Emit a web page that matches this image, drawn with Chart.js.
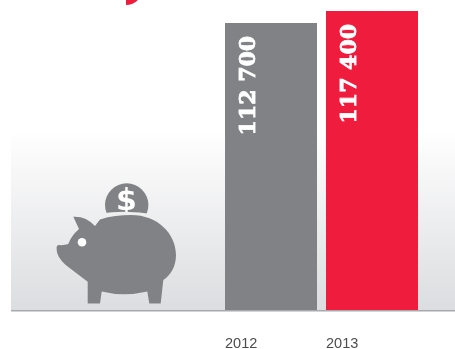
<!DOCTYPE html>
<html>
<head>
<meta charset="utf-8">
<style>
  html, body { margin: 0; padding: 0; background: #fff; }
  canvas { display: block; }
</style>
<script src="https://cdn.jsdelivr.net/npm/chart.js@4"></script>
</head>
<body>
<canvas id="savings_chart" width="455" height="349"></canvas>
<script>
const years = ["2012", "2013"];
const amounts = [112700, 117400];
const barColors = ["#808285", "#ef1c3d"];
const axisMax = 121700;

const formatAmount = (n) => String(n).replace(/\B(?=(\d{3})+$)/g, " ");

// Grey floor fade behind the bars, plus the baseline
const floorPlugin = {
    id: "floor",
    beforeDraw(chart) {
        const ctx = chart.ctx;
        const bottom = chart.chartArea.bottom;
        const fade = ctx.createLinearGradient(0, 130, 0, bottom);
        fade.addColorStop(0, "#ffffff");
        fade.addColorStop(1, "#dcdde0");
        ctx.save();
        ctx.fillStyle = fade;
        ctx.fillRect(11, 130, 444, bottom - 130);
        ctx.fillStyle = "#a7a9ac";
        ctx.fillRect(11, bottom, 444, 1.5);
        // tail end of the red swoosh cut off by the top edge
        ctx.fillStyle = "#ef1c3d";
        ctx.beginPath();
        ctx.moveTo(126, 0);
        ctx.lineTo(138, 0);
        ctx.quadraticCurveTo(133, 5, 126, 5);
        ctx.closePath();
        ctx.fill();
        ctx.restore();
    },
};

// Piggy bank with the coin going in
const piggyPlugin = {
    id: "piggy",
    afterDraw(chart) {
        const ctx = chart.ctx;
        ctx.save();
        ctx.fillStyle = "#808285";

        ctx.beginPath();
        ctx.arc(126.7, 205, 21.7, 0, Math.PI * 2);
        ctx.fill();

        ctx.fillStyle = "#ffffff";
        ctx.font = "bold 30px 'DejaVu Sans'";
        ctx.textAlign = "center";
        ctx.textBaseline = "middle";
        ctx.fillText("$", 126.5, 202);

        // pale slit between coin and back
        ctx.fillStyle = "#efeff0";
        ctx.beginPath();
        ctx.moveTo(100, 213.5);
        ctx.quadraticCurveTo(127, 209.5, 155, 214.5);
        ctx.lineTo(155, 232);
        ctx.lineTo(100, 232);
        ctx.closePath();
        ctx.fill();

        ctx.fillStyle = "#808285";
        ctx.beginPath();
        ctx.moveTo(73.3, 216.7);
        ctx.quadraticCurveTo(86, 216, 95, 226);
        ctx.lineTo(100, 219.5);
        ctx.bezierCurveTo(110, 216, 121, 215, 131, 215);
        ctx.bezierCurveTo(158, 215, 176, 234, 176, 255);
        ctx.bezierCurveTo(176, 266, 171, 275, 163.3, 280);
        ctx.lineTo(160.7, 303.5);
        ctx.lineTo(149.3, 303.5);
        ctx.lineTo(147.3, 291.5);
        ctx.quadraticCurveTo(124, 297, 101.7, 291.5);
        ctx.lineTo(100, 303.5);
        ctx.lineTo(87.7, 303.5);
        ctx.lineTo(87.7, 281.7);
        ctx.lineTo(68, 266.7);
        ctx.bezierCurveTo(62, 262, 57, 256, 56.7, 250);
        ctx.quadraticCurveTo(56, 245, 59, 245);
        ctx.quadraticCurveTo(64, 245.5, 68.3, 244);
        ctx.quadraticCurveTo(71, 236, 79, 229);
        ctx.closePath();
        ctx.fill();

        ctx.fillStyle = "#ffffff";
        ctx.beginPath();
        ctx.arc(82, 242.3, 4.3, 0, Math.PI * 2);
        ctx.fill();
        ctx.restore();
    },
};

// Amounts written upward inside each bar
const barTextPlugin = {
    id: "barText",
    afterDatasetsDraw(chart) {
        const ctx = chart.ctx;
        chart.getDatasetMeta(0).data.forEach((bar, i) => {
            const text = formatAmount(amounts[i]);
            ctx.save();
            ctx.translate(bar.x - 21.5, bar.y + 13);
            ctx.rotate(-Math.PI / 2);
            ctx.font = "bold 22px 'DejaVu Serif'";
            ctx.fillStyle = "#ffffff";
            ctx.strokeStyle = "#ffffff";
            ctx.lineWidth = 0.8;
            ctx.textAlign = "right";
            ctx.textBaseline = "middle";
            ctx.fillText(text, 0, 0);
            ctx.strokeText(text, 0, 0);
            ctx.restore();
        });
    },
};

new Chart(document.getElementById("savings_chart"), {
    type: "bar",
    data: {
        labels: years,
        datasets: [
            {
                data: amounts,
                backgroundColor: barColors,
                borderWidth: 0,
                categoryPercentage: 1,
                barPercentage: 92 / 101,
            },
        ],
    },
    options: {
        responsive: false,
        animation: false,
        layout: {
            padding: { left: 220.5, right: 32.5, top: 0, bottom: 0 },
        },
        plugins: {
            legend: { display: false },
            tooltip: { enabled: false },
        },
        scales: {
            x: {
                grid: { display: false },
                border: { display: false },
                afterFit: (scale) => {
                    scale.height = 39;
                },
                ticks: {
                    align: "start",
                    labelOffset: -46,
                    padding: 17,
                    maxRotation: 0,
                    color: "#4d4d4f",
                    font: { family: "'Liberation Sans'", size: 14.5 },
                },
            },
            y: {
                display: false,
                min: 0,
                max: axisMax,
            },
        },
    },
    plugins: [floorPlugin, barTextPlugin, piggyPlugin],
});
</script>
</body>
</html>
